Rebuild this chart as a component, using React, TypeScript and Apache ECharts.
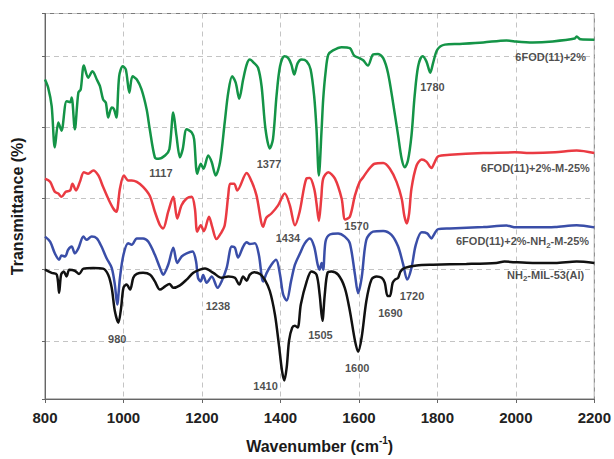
import React, { useEffect, useRef } from "react";
import * as echarts from "echarts";

const FONT = '"Liberation Sans", Arial, Helvetica, sans-serif';

const xTicks = { min: 800, max: 2200, interval: 200 };
const yRange = { min: 3.62, max: 112.06 };

const seriesNames = [
  "6FOD(11)+2%",
  "6FOD(11)+2%-M-25%",
  "6FOD(11)+2%-NH2-M-25%",
  "NH2-MIL-53(Al)",
];
const seriesColors = ["#149447", "#ea3a42", "#3a4ea8", "#111111"];

// [wavenumber (cm-1), transmittance (a.u., offset)]
const fod2: [number, number][] = [
  [800, 93.5], [808, 91.2], [817, 86.0], [825, 74.4], [834, 81.4], [842, 79.1], [855, 87.4],
  [864, 87.1], [868, 88.4], [876, 79.5], [885, 89.8], [891, 90.7], [899, 97.4], [910, 94.0],
  [921, 95.8], [932, 93.5], [940, 91.6], [948, 87.9], [955, 87.0], [961, 82.8], [970, 85.6],
  [976, 85.1], [982, 82.8], [989, 94.4], [998, 97.2], [1006, 96.3], [1015, 89.8], [1023, 94.4],
  [1034, 93.5], [1046, 90.7], [1059, 85.1], [1067, 79.5], [1080, 71.6], [1089, 71.2],
  [1106, 72.1], [1117, 73.9], [1127, 84.2], [1135, 77.7], [1144, 71.6], [1151, 73.9],
  [1161, 79.5], [1174, 78.6], [1180, 76.7], [1188, 67.0], [1197, 69.8], [1204, 68.4],
  [1216, 72.1], [1225, 70.2], [1235, 66.5], [1246, 70.2], [1258, 81.4], [1267, 89.8],
  [1277, 94.4], [1286, 92.6], [1295, 88.1], [1305, 93.5], [1314, 97.7], [1322, 99.1],
  [1333, 98.1], [1343, 96.8], [1352, 91.6], [1362, 79.5], [1373, 74.1], [1381, 76.7],
  [1390, 88.8], [1399, 97.2], [1410, 100.0], [1420, 99.5], [1428, 97.7], [1435, 94.9],
  [1444, 98.1], [1454, 99.1], [1467, 98.6], [1477, 96.3], [1486, 88.8], [1492, 79.5],
  [1498, 66.5], [1505, 79.5], [1509, 87.9], [1515, 95.4], [1522, 100.5], [1534, 101.7],
  [1556, 102.6], [1577, 102.3], [1588, 100.2], [1602, 99.5], [1611, 98.9], [1623, 97.4],
  [1636, 100.5], [1649, 100.7], [1662, 99.5], [1674, 95.4], [1687, 87.0], [1700, 77.7],
  [1709, 71.2], [1717, 68.8], [1725, 70.7], [1734, 77.7], [1742, 88.8], [1751, 97.2],
  [1762, 100.0], [1772, 98.6], [1782, 95.4], [1789, 98.1], [1800, 101.9], [1819, 103.3],
  [1857, 103.5], [1917, 103.9], [1976, 104.5], [1997, 104.2], [2043, 103.9], [2094, 104.2],
  [2150, 105.0], [2155, 105.6], [2165, 104.8], [2200, 104.7],
];

const fod2M25: [number, number][] = [
  [800, 65.6], [813, 64.7], [825, 61.9], [834, 61.4], [842, 60.5], [853, 61.9], [864, 62.3],
  [870, 64.2], [879, 62.3], [889, 64.7], [899, 67.4], [910, 67.0], [923, 67.9], [936, 66.5],
  [948, 63.3], [961, 60.0], [974, 57.2], [982, 56.3], [991, 62.8], [1001, 66.5], [1012, 65.1],
  [1021, 65.1], [1034, 64.7], [1050, 63.3], [1067, 60.8], [1080, 56.3], [1093, 52.5],
  [1101, 51.6], [1114, 56.3], [1127, 60.5], [1137, 54.4], [1148, 58.1], [1161, 60.0],
  [1174, 60.5], [1182, 57.2], [1188, 50.7], [1197, 52.5], [1205, 50.8], [1218, 54.9],
  [1226, 52.1], [1237, 48.6], [1248, 50.2], [1258, 52.5], [1267, 60.9], [1272, 64.2],
  [1282, 64.2], [1290, 62.3], [1314, 67.2], [1327, 64.7], [1339, 60.9], [1356, 52.1],
  [1364, 54.6], [1377, 55.8], [1394, 58.1], [1411, 61.4], [1424, 58.1], [1437, 52.5],
  [1449, 56.3], [1466, 65.6], [1475, 65.8], [1486, 62.8], [1492, 58.6], [1498, 53.7],
  [1504, 60.0], [1509, 65.6], [1522, 67.4], [1539, 65.6], [1556, 60.0], [1565, 54.1],
  [1577, 54.9], [1590, 60.9], [1602, 64.7], [1611, 66.0], [1623, 67.9], [1640, 69.8],
  [1662, 70.0], [1679, 68.4], [1696, 64.7], [1709, 60.0], [1716, 55.0], [1722, 53.0],
  [1728, 55.8], [1734, 62.8], [1747, 69.3], [1760, 71.0], [1772, 70.4], [1785, 68.6],
  [1793, 70.2], [1802, 71.9], [1832, 72.3], [1917, 72.8], [1997, 73.0], [2043, 72.8],
  [2100, 73.0], [2155, 73.5], [2200, 72.8],
];

const fod2NH2M25: [number, number][] = [
  [800, 49.3], [813, 47.9], [825, 44.6], [836, 42.8], [842, 44.0], [851, 43.7], [859, 45.6],
  [868, 46.5], [876, 44.6], [885, 46.0], [898, 49.3], [906, 48.4], [919, 49.3], [932, 48.8],
  [944, 46.5], [957, 43.2], [970, 40.5], [978, 35.8], [984, 30.2], [991, 37.7], [1000, 44.2],
  [1012, 47.4], [1021, 47.0], [1034, 48.8], [1050, 48.8], [1063, 47.9], [1080, 44.2],
  [1093, 40.5], [1101, 38.6], [1114, 41.4], [1127, 46.2], [1137, 41.9], [1148, 43.7],
  [1161, 44.6], [1176, 45.1], [1185, 42.3], [1190, 37.7], [1197, 36.7], [1203, 38.5],
  [1212, 36.3], [1225, 38.1], [1240, 34.9], [1250, 36.7], [1263, 40.5], [1276, 46.5],
  [1284, 46.2], [1292, 43.4], [1305, 46.5], [1314, 47.7], [1322, 47.2], [1335, 47.4],
  [1345, 44.2], [1356, 36.7], [1365, 39.1], [1377, 41.4], [1389, 42.8], [1399, 38.6],
  [1407, 33.0], [1416, 31.3], [1427, 36.7], [1437, 41.4], [1450, 44.6], [1462, 47.4],
  [1475, 48.8], [1486, 46.5], [1495, 41.4], [1500, 40.0], [1505, 41.9], [1509, 40.0],
  [1515, 47.9], [1526, 49.9], [1547, 50.2], [1564, 49.3], [1577, 47.4], [1590, 38.6],
  [1598, 33.4], [1607, 37.7], [1619, 48.4], [1636, 50.7], [1662, 50.9], [1683, 49.8],
  [1700, 46.5], [1713, 41.4], [1723, 37.2], [1734, 40.5], [1745, 47.0], [1760, 50.5],
  [1774, 50.2], [1785, 48.8], [1793, 50.2], [1802, 51.4], [1832, 51.6], [1917, 52.0],
  [1976, 52.4], [2000, 51.9], [2050, 51.9], [2100, 52.0], [2155, 52.5], [2200, 51.9],
];

const nh2Mil53: [number, number][] = [
  [800, 40.0], [817, 39.1], [830, 38.6], [836, 33.5], [841, 38.6], [848, 39.5], [855, 38.1],
  [862, 40.0], [876, 39.7], [887, 38.8], [898, 40.3], [923, 40.5], [948, 40.3], [961, 38.6],
  [970, 34.9], [978, 28.4], [987, 25.1], [994, 29.3], [1000, 34.9], [1008, 35.8], [1017, 34.4],
  [1025, 37.7], [1034, 38.8], [1050, 39.1], [1068, 38.6], [1080, 36.7], [1093, 34.4],
  [1106, 35.3], [1117, 36.0], [1127, 34.9], [1144, 35.6], [1161, 37.2], [1178, 39.1],
  [1195, 40.0], [1208, 40.3], [1229, 39.1], [1250, 37.7], [1267, 38.1], [1284, 37.7],
  [1295, 35.8], [1305, 38.1], [1314, 36.9], [1322, 38.6], [1333, 39.3], [1348, 38.8],
  [1360, 37.2], [1373, 34.0], [1386, 27.4], [1396, 19.0], [1404, 11.6], [1410, 8.8],
  [1416, 12.5], [1422, 20.0], [1430, 23.7], [1437, 24.2], [1444, 23.7], [1452, 30.2],
  [1467, 36.7], [1479, 39.5], [1492, 38.6], [1500, 33.0], [1507, 25.6], [1513, 33.0],
  [1520, 39.1], [1530, 39.5], [1547, 38.6], [1564, 34.9], [1577, 28.4], [1590, 20.0],
  [1598, 16.9], [1607, 20.9], [1619, 31.2], [1632, 37.2], [1645, 38.1], [1658, 37.7],
  [1666, 36.3], [1673, 32.6], [1679, 32.6], [1686, 36.3], [1692, 37.2], [1700, 37.7],
  [1706, 39.5], [1717, 40.5], [1747, 41.2], [1789, 41.4], [1874, 41.6], [1950, 41.9],
  [1971, 42.3], [1997, 42.1], [2043, 41.9], [2100, 41.9], [2155, 42.3], [2200, 41.9],
];

const peakTexts = ["1117", "1377", "1780", "1434", "1570", "1238", "980", "1410", "1505", "1600", "1690", "1720"];
const peakAnchors: [number, number][] = [
  [1095.5, 67.2], [1370.6, 69.8], [1787.5, 91.5], [1419, 48.8], [1594, 52.2], [1240.6, 29.9],
  [984, 20.6], [1362, 7.2], [1502, 21.7], [1595.5, 12.3], [1680.5, 27.9], [1735.6, 32.6],
];
const nameAnchors: [number, number][] = [
  [2180, 99.9], [2190, 68.6], [2188, 48.0], [2175.5, 38.6],
];

const spectra = [fod2, fod2M25, fod2NH2M25, nh2Mil53];

function richName(n: string): string {
  return n.replace(/NH2/g, "NH{s|2}");
}

export default function App() {
  const ref = useRef<HTMLDivElement>(null);
  useEffect(() => {
    document.body.style.margin = "0";
    const chart = echarts.init(ref.current as HTMLDivElement, null, { renderer: "svg" });
    const gridLine = { show: true, lineStyle: { color: "#c4c4c4", type: [5, 4] as any, width: 1 } };
    const lineSeries = spectra.map((d, i) => ({
      type: "line",
      name: seriesNames[i],
      data: d,
      showSymbol: false,
      symbol: "none",
      smooth: 0.3,
      lineStyle: { color: seriesColors[i], width: 2.5 },
      itemStyle: { color: seriesColors[i] },
      z: 3,
      silent: true,
    }));
    const labelBase = {
      show: true,
      fontFamily: FONT,
      fontWeight: "bold" as const,
      color: "#1e1e1e",
      fontSize: 11,
    };
    const option: any = {
      animation: false,
      backgroundColor: "#ffffff",
      grid: {
        left: 45,
        right: 19.3,
        top: 13.5,
        bottom: 57,
        show: true,
        borderColor: "#7a7a7a",
        borderWidth: 1,
      },
      xAxis: {
        type: "value",
        min: xTicks.min,
        max: xTicks.max,
        interval: xTicks.interval,
        name: "{a|Wavenumber (cm}{b|-1}{a|)}",
        nameLocation: "middle",
        nameGap: 36,
        nameTextStyle: {
          rich: {
            a: { fontFamily: FONT, fontWeight: "bold", fontSize: 16, color: "#1a1a1a", lineHeight: 22 },
            b: { fontFamily: FONT, fontWeight: "bold", fontSize: 10, color: "#1a1a1a", verticalAlign: "top" },
          },
        },
        axisLine: { show: true, lineStyle: { color: "#666", width: 1 } },
        axisTick: { show: true, length: 4, lineStyle: { color: "#666" } },
        axisLabel: {
          fontFamily: FONT,
          fontWeight: "bold",
          fontSize: 15,
          color: "#222",
          margin: 11,
          formatter: (v: number) => String(v),
        },
        splitLine: gridLine,
      },
      yAxis: {
        type: "value",
        min: yRange.min,
        max: yRange.max,
        name: "Transmittance (%)",
        nameLocation: "middle",
        nameGap: 20,
        nameTextStyle: { fontFamily: FONT, fontWeight: "bold", fontSize: 16, color: "#1a1a1a" },
        axisLine: { show: true, lineStyle: { color: "#666", width: 1 } },
        axisTick: { show: true, length: 3, lineStyle: { color: "#666" } },
        axisLabel: { show: false },
        splitLine: gridLine,
      },
      series: [
        ...lineSeries,
        {
          type: "scatter",
          name: "peaks",
          symbolSize: 1,
          itemStyle: { color: "rgba(0,0,0,0)" },
          silent: true,
          z: 5,
          data: peakAnchors.map((p, i) => ({
            value: p,
            label: { ...labelBase, position: "inside", formatter: peakTexts[i] },
          })),
        },
        {
          type: "scatter",
          name: "names",
          symbolSize: 1,
          itemStyle: { color: "rgba(0,0,0,0)" },
          silent: true,
          z: 5,
          data: nameAnchors.map((p, i) => ({
            value: p,
            label: {
              ...labelBase,
              position: "left",
              distance: 0,
              lineHeight: 16,
              formatter: richName(seriesNames[i]),
              rich: {
                s: { fontFamily: FONT, fontWeight: "bold", fontSize: 8, color: "#1e1e1e", verticalAlign: "bottom" },
              },
            },
          })),
        },
      ],
    };
    chart.setOption(option);
    return () => chart.dispose();
  }, []);
  return <div ref={ref} style={{ width: 614, height: 459 }} />;
}
